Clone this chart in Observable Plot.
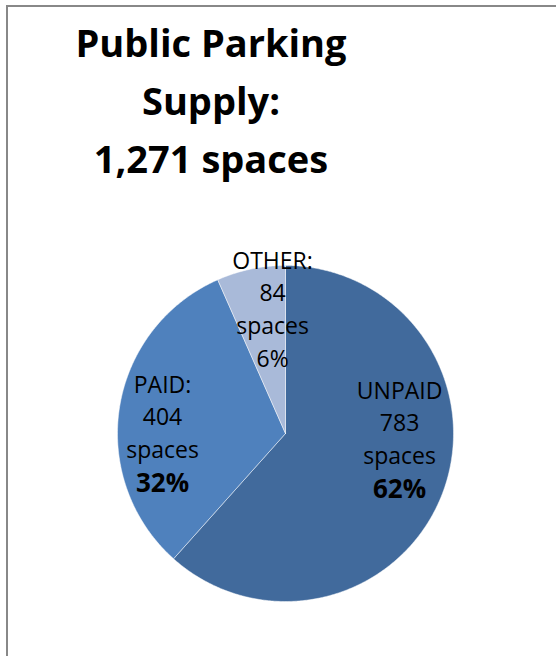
<!DOCTYPE html>
<html><head><meta charset="utf-8">
<script src="https://cdn.jsdelivr.net/npm/d3@7"></script>
<script src="https://cdn.jsdelivr.net/npm/@observablehq/plot@0.6"></script>
<style>
html,body{margin:0;padding:0;background:#fff;overflow:hidden;}
#wrap{position:relative;width:556px;height:656px;overflow:hidden;font-family:"Open Sans",sans-serif;}
#frame{position:absolute;left:6px;top:5px;width:600px;height:700px;border-top:2px solid #888;border-left:2px solid #888;pointer-events:none;}
#title{position:relative;width:422px;height:200px;box-sizing:border-box;padding-top:13px;text-align:center;font-weight:700;font-size:38px;line-height:58px;color:#000;}
#chart{position:relative;height:456px;}
</style></head>
<body><div id="wrap"><div id="title"></div><div id="chart"></div><div id="frame"></div></div>
<script>
// ---- data ----
const titleLines = ["Public Parking", "Supply:", "1,271 spaces"];
const categories = ["UNPAID", "PAID", "OTHER"];
const spaces = [783, 404, 84];
const labelNames = ["UNPAID", "PAID:", "OTHER:"];
const pctLabels = ["62%", "32%", "6%"];
const pctBold = [true, true, false];

// ---- style / layout ----
const sliceColors = ["#416A9C", "#4F81BD", "#A9BAD9"];
const labelAnchor = [[0.679, 0.345], [-0.732, 0.381], [-0.077, 1.119]]; // in pie-radius units

document.getElementById("title").innerHTML = titleLines.join("<br>");

const arcs = d3.pie().sort(null).value(d => d)(spaces);
const slicePts = [];
arcs.forEach((a, i) => {
  const cat = categories[i];
  slicePts.push({cat, x: 0, y: 0});
  const n = Math.max(2, Math.ceil((a.endAngle - a.startAngle) / (Math.PI / 360)));
  for (let k = 0; k <= n; k++) {
    const t = a.startAngle + (a.endAngle - a.startAngle) * k / n;
    slicePts.push({cat, x: Math.sin(t), y: Math.cos(t)});
  }
  slicePts.push({cat, x: 0, y: 0});
});

const rows = categories.map((c, i) => ({
  cat: c,
  text: pctBold[i] ? `${labelNames[i]}\n${spaces[i]}\nspaces` : `${labelNames[i]}\n${spaces[i]}\nspaces\n${pctLabels[i]}`,
  pct: pctLabels[i],
  bold: pctBold[i],
  x: labelAnchor[i][0],
  y: labelAnchor[i][1]
}));

const chart = Plot.plot({
  width: 556,
  height: 456,
  marginLeft: 117,
  marginRight: 103,
  marginTop: 65,
  marginBottom: 55,
  x: {domain: [-1, 1], axis: null},
  y: {domain: [-1, 1], axis: null},
  color: {domain: categories, range: sliceColors},
  style: {background: "transparent", fontFamily: "'Open Sans', sans-serif", overflow: "visible"},
  marks: [
    Plot.line(slicePts, {x: "x", y: "y", z: "cat", fill: "cat", stroke: "white", strokeWidth: 0.8, strokeOpacity: 0.6}),
    Plot.text(rows, {x: "x", y: "y", text: "text", lineAnchor: "top", lineHeight: 1.42, fontSize: 23, fill: "black"}),
    Plot.text(rows.filter(d => d.bold), {x: "x", y: "y", text: "pct", lineAnchor: "top", dy: 104, fontSize: 26, fontWeight: "bold", fill: "black"})
  ]
});
document.getElementById("chart").appendChild(chart);
</script>
</body></html>
